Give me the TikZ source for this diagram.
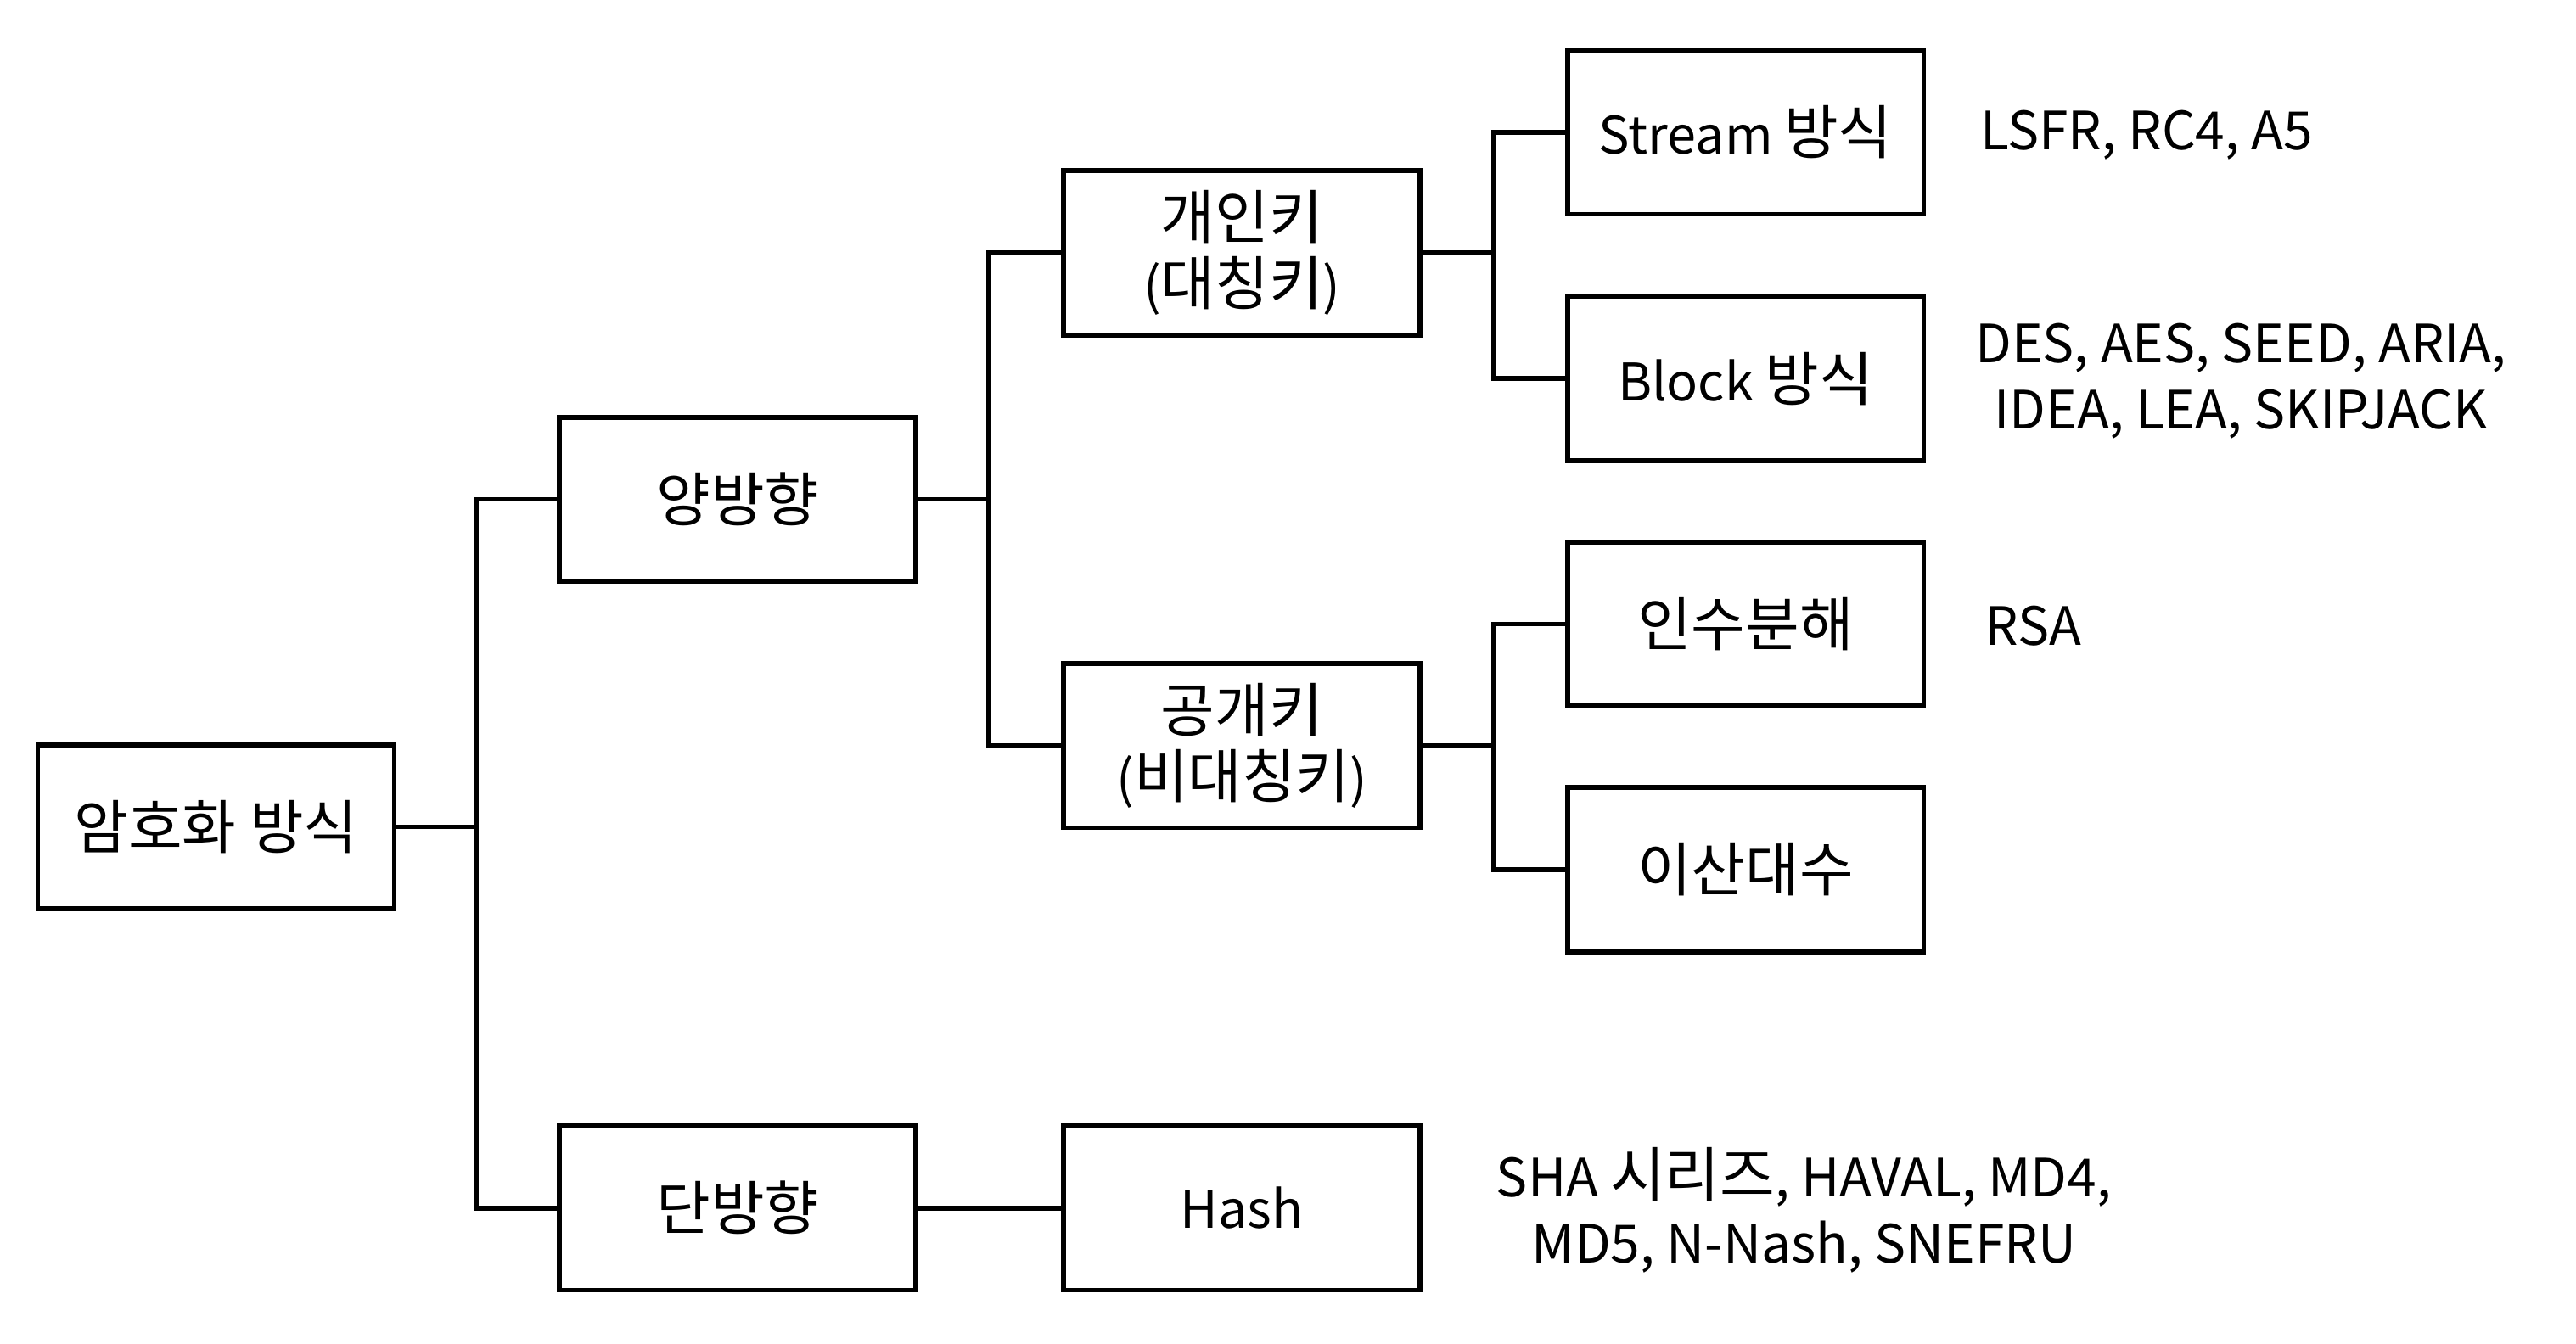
\documentclass[tikz,border=0pt]{standalone}
\usepackage{fontspec}
\setmainfont{Noto Sans CJK KR}
\newfontfamily\hgfont[Scale=1.13]{Noto Sans CJK KR}
\newcommand\hg[1]{{\hgfont #1}}
\usetikzlibrary{positioning}
\tikzset{
  box/.style={draw, line width=1.7pt, minimum width=4.34cm, minimum height=2cm,
    align=center, inner sep=0pt, font=\fontsize{18}{23}\selectfont},
  algo/.style={align=center, inner sep=0pt, font=\fontsize{18.3}{23}\selectfont},
  link/.style={line width=1.7pt}
}
\begin{document}
\begin{tikzpicture}[x=0.02cm, y=-0.02cm]
    \useasboundingbox (0,0) rectangle (1568,818);

    % Draw the boxes
    \node[box] (root) at (131.5,503.5) {\hg{암호화 방식}};
    \node[box] (bi) at (449,304) {\hg{양방향}};
    \node[box] (uni) at (449,735.5) {\hg{단방향}};
    \node[box] (priv) at (756,154) {\hg{개인키}\\(\hg{대칭키})};
    \node[box] (pub) at (756,454) {\hg{공개키}\\(\hg{비대칭키})};
    \node[box] (hash) at (756,735.5) {Hash};
    \node[box] (stream) at (1062.5,80.5) {Stream \hg{방식}};
    \node[box] (block) at (1062.5,230.5) {Block \hg{방식}};
    \node[box] (fact) at (1062.5,380) {\hg{인수분해}};
    \node[box] (dlog) at (1062.5,529.5) {\hg{이산대수}};

    % Draw the algorithm lists
    \node[algo, anchor=west] (streamalg) at (1205,82) {LSFR, RC4, A5};
    \node[algo] (blockalg) at (1364,232) {DES, AES, SEED, ARIA,\\IDEA, LEA, SKIPJACK};
    \node[algo, anchor=west] (factalg) at (1208,381) {RSA};
    \node[algo] (hashalg) at (1098,737) {SHA \hg{시리즈}, HAVAL, MD4,\\MD5, N-Nash, SNEFRU};

    % Draw the branch points
    \coordinate (j1) at (290,503.5);
    \coordinate (j2) at (602,304);
    \coordinate (j3) at (909,154);
    \coordinate (j4) at (909,454);

    % Draw the connectors
    \draw[link] (root.east) -- (j1);
    \draw[link] (bi.west) -| (j1) |- (uni.west);
    \draw[link] (bi.east) -- (j2);
    \draw[link] (priv.west) -| (j2) |- (pub.west);
    \draw[link] (priv.east) -- (j3);
    \draw[link] (stream.west) -| (j3) |- (block.west);
    \draw[link] (pub.east) -- (j4);
    \draw[link] (fact.west) -| (j4) |- (dlog.west);
    \draw[link] (uni.east) -- (hash.west);
\end{tikzpicture}
\end{document}
